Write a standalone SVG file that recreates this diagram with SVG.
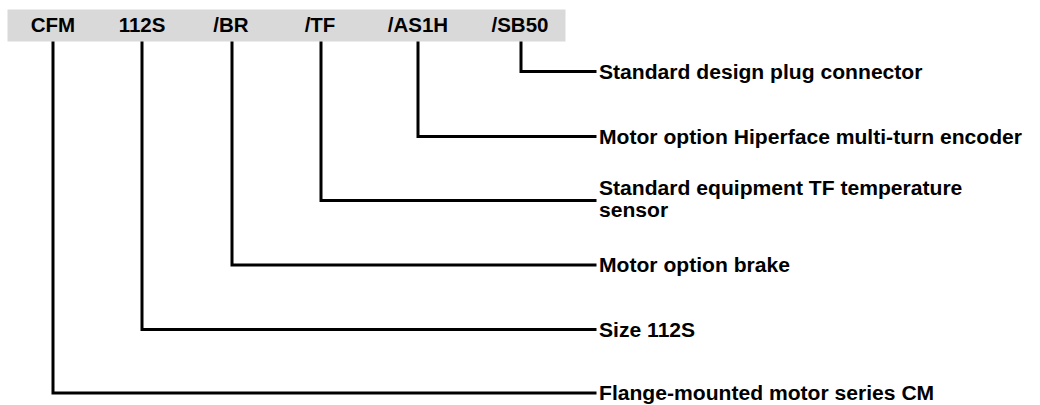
<svg xmlns="http://www.w3.org/2000/svg" width="1040" height="405" viewBox="0 0 1040 405">
<style>
  .hdr { font-family: "Liberation Sans", Arial, sans-serif; font-weight: bold; font-size: 20.5px; fill: #000; text-anchor: middle; }
  .lbl { font-family: "Liberation Sans", Arial, sans-serif; font-weight: bold; font-size: 21.1px; fill: #000; }
  .conn { fill: none; stroke: #000; stroke-width: 3; stroke-linejoin: miter; stroke-linecap: square; }
</style>
<rect x="7.5" y="9.5" width="558" height="32" fill="#d9d9d9"/>
<g id="header">
  <text class="hdr" x="53" y="32">CFM</text>
  <text class="hdr" x="142" y="32">112S</text>
  <text class="hdr" x="231" y="32">/BR</text>
  <text class="hdr" x="320" y="32">/TF</text>
  <text class="hdr" x="418" y="32">/AS1H</text>
  <text class="hdr" x="520" y="32">/SB50</text>
</g>
<g id="connectors">
  <path class="conn" d="M521,43 V71.5 H595"/>
  <path class="conn" d="M418,43 V136.5 H595"/>
  <path class="conn" d="M321,43 V200.5 H595"/>
  <path class="conn" d="M232,43 V265 H595"/>
  <path class="conn" d="M142,43 V329.5 H595"/>
  <path class="conn" d="M53,43 V393 H595"/>
</g>
<g id="n-sb50"><text class="lbl" x="599" y="79">Standard design plug connector</text></g>
<g id="n-as1h"><text class="lbl" x="599" y="144">Motor option Hiperface multi-turn encoder</text></g>
<g id="n-tf"><text class="lbl" x="599" y="195">Standard equipment TF temperature</text><text class="lbl" x="599" y="217">sensor</text></g>
<g id="n-br"><text class="lbl" x="599" y="272">Motor option brake</text></g>
<g id="n-112s"><text class="lbl" x="599" y="336.5">Size 112S</text></g>
<g id="n-cfm"><text class="lbl" x="599" y="400">Flange-mounted motor series CM</text></g>
</svg>
